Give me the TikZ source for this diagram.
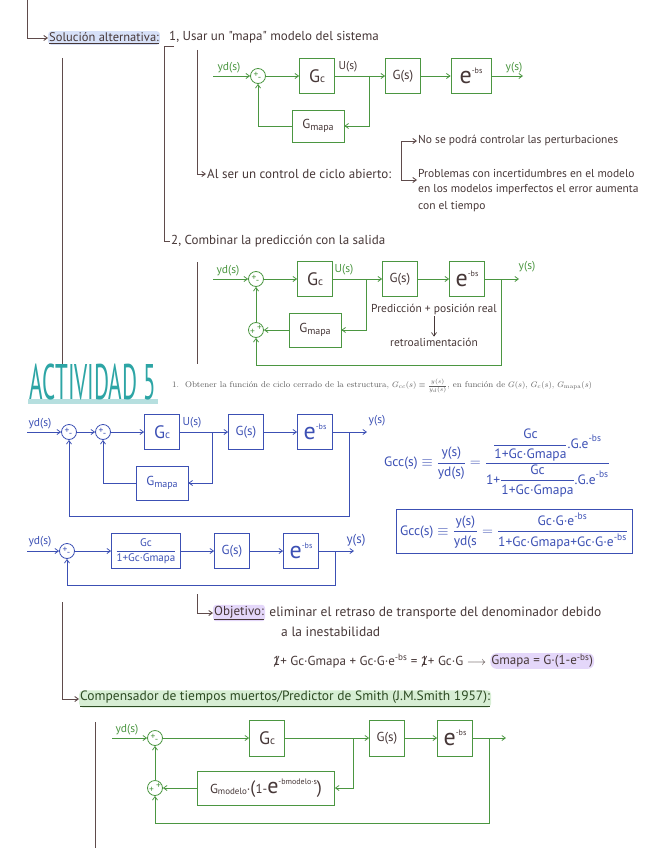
\documentclass[tikz,border=0pt]{standalone}
\usepackage{fontspec}
\usepackage{amsmath}
\usetikzlibrary{calc,positioning,arrows.meta}
\newfontfamily\hand{PT Sans}
\definecolor{tinta}{RGB}{70,55,55}
\definecolor{marron}{RGB}{95,75,75}
\definecolor{verde}{RGB}{75,150,65}
\definecolor{verdeosc}{RGB}{45,75,35}
\definecolor{azul}{RGB}{60,80,180}
\definecolor{turq}{RGB}{45,165,165}
\definecolor{gris}{RGB}{95,95,95}
\definecolor{hlazul}{RGB}{215,225,248}
\definecolor{hllila}{RGB}{228,215,250}
\definecolor{hlverde}{RGB}{215,238,212}
\newcommand{\ebs}{{\fontsize{24}{24}\selectfont e}\raisebox{10pt}{\fontsize{8}{8}\selectfont -bs}}
\newcommand{\Gc}{{\fontsize{18}{18}\selectfont G}\fontsize{11}{11}\selectfont c}
\newcommand{\Gm}{G\raisebox{-1.5pt}{\fontsize{10}{10}\selectfont mapa}}
\newcommand{\tachado}[1]{\ooalign{#1\cr\hidewidth/\hidewidth}}
\newcommand{\signos}[4]{%
  \node[sgn,text=#1] at ($(#2)+(-2,-1.5)$) {#3};
  \node[sgn,text=#1] at ($(#2)+(1.5,3)$) {#4};}
\newcommand{\signosdos}[2]{%
  \node[sgn,text=#1] at ($(#2)+(-3.5,2)$) {+};
  \node[sgn,text=#1] at ($(#2)+(3.5,-2.5)$) {+};}

\begin{document}
\begin{tikzpicture}[x=1pt,y=-1pt,
  >={Straight Barb[length=3.5pt,width=5pt]},
  txt/.style={font=\hand\fontsize{11.5}{13}\selectfont, text=tinta, inner sep=1pt},
  big/.style={font=\hand\fontsize{13}{15}\selectfont},
  lbl/.style={font=\hand\fontsize{11.5}{12}\selectfont, inner sep=0pt},
  brn/.style={draw=marron, line width=0.9pt},
  gl/.style={draw=verde, line width=0.8pt},
  bl/.style={draw=azul, line width=0.8pt},
  gbox/.style={gl, text=tinta, font=\hand\fontsize{13}{14}\selectfont, minimum width=35, minimum height=35, inner sep=1pt},
  bbox/.style={bl, text=azul, font=\hand\fontsize{13}{14}\selectfont, minimum width=35, minimum height=35, inner sep=1pt},
  gsum/.style={gl, circle, minimum size=15, inner sep=0pt},
  bsum/.style={bl, circle, minimum size=15, inner sep=0pt},
  sgn/.style={font=\hand\fontsize{9.5}{9.5}\selectfont, inner sep=0pt}]

\useasboundingbox (0,0) rectangle (646,848);

% Solucion alternativa
\node[txt, font=\hand\fontsize{12.5}{14}\selectfont, anchor=west, fill=hlazul, rounded corners=3pt] (sol) at (48,38) {\underline{Solución alternativa:}};
\node[txt, big, anchor=west] (uno) at (168,37) {1, Usar un "mapa" modelo del sistema};
\node[txt, big, anchor=west] (abi) at (206,174) {Al ser un control de ciclo abierto:};
\node[txt, anchor=west] (nose) at (417,141) {No se podrá controlar las perturbaciones};
\node[txt, anchor=west] (p1) at (417,173) {Problemas con incertidumbres en el modelo};
\node[txt, anchor=west] (p2) at (417,190) {en los modelos imperfectos el error aumenta};
\node[txt, anchor=west] (p3) at (417,207) {con el tiempo};
\node[txt, big, anchor=west] (dos) at (170,241) {2, Combinar la predicción con la salida};

\coordinate (t0) at (27,0);
\coordinate (t1) at (164,46);
\coordinate (t2) at (197,50);
\coordinate (k0) at (401,180);
\draw[brn,->] (t0) |- (sol.west);
\draw[brn] (62,58) -- (62,365);
\draw[brn] ($(t1)+(10,0)$) -- (t1) |- (dos.west);
\draw[brn,->] (t2) |- (abi.west);
\draw[brn,->] (k0) |- (nose.west);
\draw[brn,->] (k0) -- (k0 -| p1.west);

% diagrama 1
\coordinate (in1) at (213,76);
\coordinate (out1) at (523,76);
\coordinate (a5) at (369,76);
\node[gsum] (a1) at (258,76) {};
\node[gbox] (a2) at (317,76) {\Gc};
\node[gbox] (a3) at (403,76) {G(s)};
\node[gbox, minimum width=40] (a4) at (471,76) {\ebs};
\node[gbox, minimum width=52, minimum height=32] (a6) at (318,126) {\Gm};
\node[lbl, text=verde] at (229,68) {yd(s)};
\node[lbl, text=tinta] at (348,67) {U(s)};
\node[lbl, text=verde] at (514,68) {y(s)};
\signos{verde}{a1}{+}{-}
\draw[gl,->] (in1) -- (a1);
\draw[gl,->] (a1) -- (a2);
\draw[gl,->] (a2) -- (a3);
\draw[gl,->] (a3) -- (a4);
\draw[gl,->] (a4) -- (out1);
\draw[gl,->] (a5) |- (a6);
\draw[gl,->] (a6) -| (a1);

% diagrama 2
\coordinate (in2) at (213,279);
\coordinate (out2) at (519,279);
\coordinate (b5) at (366,279);
\coordinate (b6) at (501,279);
\coordinate (b9) at (256,365);
\node[gsum] (b1) at (256,279) {};
\node[gbox] (b2) at (315,279) {\Gc};
\node[gbox] (b3) at (400,279) {G(s)};
\node[gbox] (b4) at (467,279) {\ebs};
\node[gbox, minimum width=52, minimum height=34] (b7) at (315,330) {\Gm};
\node[gsum] (b8) at (256,330) {};
\node[lbl, text=verde] at (228,271) {yd(s)};
\node[lbl, text=verde] at (344,270) {U(s)};
\node[lbl, text=verde] at (527,267) {y(s)};
\signos{verde}{b1}{+}{-}
\signosdos{verde}{b8}
\draw[gl,->] (in2) -- (b1);
\draw[gl,->] (b1) -- (b2);
\draw[gl,->] (b2) -- (b3);
\draw[gl,->] (b3) -- (b4);
\draw[gl,->] (b4) -- (out2);
\draw[gl,->] (b5) |- (b7);
\draw[gl,->] (b7) -- (b8);
\draw[gl,->] (b8) -- (b1);
\draw[gl,->] (b6) |- (b9) -- (b8);
\node[txt] (pred) at (434,310) {Predicción + posición real};
\node[txt] (retro) at (434,342) {retroalimentación};
\draw[tinta, line width=0.7pt, ->] (pred.south) -- (retro.north);
\draw[brn] (197,262) -- (197,364);

% Actividad 5
\fill[turq!35] (28,399) rectangle (158,404);
\node[text=turq, font=\hand\fontsize{50}{50}\selectfont, inner sep=0pt] (act) at (93,382) {\scalebox{0.46}[1]{ACTIVIDAD 5}};
\node[anchor=west, text=gris, font=\fontsize{8.4}{9}\selectfont, inner sep=0pt] (enun) at (172,386)
  {1.\ \ Obtener la función de ciclo cerrado de la estructura, $G_{cc}(s)\equiv\frac{y(s)}{y_d(s)}$, en función de $G(s)$, $G_c(s)$, $G_{\text{mapa}}(s)$};

% diagrama 3
\coordinate (in3) at (27,432);
\coordinate (out3) at (367,432);
\coordinate (c6) at (212,432);
\coordinate (c7) at (349,432);
\coordinate (c9) at (69,516);
\node[bsum] (c1) at (69,432) {};
\node[bsum] (c2) at (103,432) {};
\node[bbox] (c3) at (162,432) {\Gc};
\node[bbox] (c4) at (246,432) {G(s)};
\node[bbox] (c5) at (315,432) {\ebs};
\node[bbox, minimum width=52, minimum height=34] (c8) at (162,483) {\Gm};
\node[lbl, text=azul] at (40,424) {yd(s)};
\node[lbl, text=azul] at (192,423) {U(s)};
\node[lbl, text=azul] at (377,421) {y(s)};
\signos{azul}{c1}{+}{-}
\signos{azul}{c2}{+}{-}
\draw[bl,->] (in3) -- (c1);
\draw[bl,->] (c1) -- (c2);
\draw[bl,->] (c2) -- (c3);
\draw[bl,->] (c3) -- (c4);
\draw[bl,->] (c4) -- (c5);
\draw[bl,->] (c5) -- (out3);
\draw[bl,->] (c6) |- (c8);
\draw[bl,->] (c8) -| (c2);
\draw[bl,->] (c7) |- (c9) -- (c1);

\node[text=azul, font=\hand\fontsize{13.5}{15}\selectfont, inner sep=0pt] (eq1) at (497,463)
  {$\text{Gcc(s)}\equiv\dfrac{\text{y(s)}}{\text{yd(s)}}=\dfrac{\dfrac{\text{Gc}}{\text{1+Gc·Gmapa}}\text{.G.e}^{\text{-bs}}}{\text{1+}\dfrac{\text{Gc}}{\text{1+Gc·Gmapa}}\text{.G.e}^{\text{-bs}}}$};
\node[bl, text=azul, font=\hand\fontsize{13.5}{15}\selectfont, minimum width=236, minimum height=44, inner sep=1pt] (eq2) at (514,531)
  {$\text{Gcc(s)}\equiv\dfrac{\text{y(s)}}{\text{yd(s}}=\dfrac{\text{Gc·G·e}^{\text{-bs}}}{\text{1+Gc·Gmapa+Gc·G·e}^{\text{-bs}}}$};

% diagrama 4
\coordinate (in4) at (27,551);
\coordinate (out4) at (354,551);
\coordinate (d5) at (335,551);
\coordinate (d6) at (67,585);
\node[bsum] (d1) at (67,551) {};
\node[bbox, minimum width=69, font=\hand\fontsize{11}{12}\selectfont] (d2) at (146,551) {$\dfrac{\text{Gc}}{\text{1+Gc·Gmapa}}$};
\node[bbox] (d3) at (232,551) {G(s)};
\node[bbox] (d4) at (301,551) {\ebs};
\node[lbl, text=azul] at (40,542) {yd(s)};
\node[lbl, text=azul, font=\hand\fontsize{13}{14}\selectfont] at (356,540) {y(s)};
\signos{azul}{d1}{+}{-}
\draw[bl,->] (in4) -- (d1);
\draw[bl,->] (d1) -- (d2);
\draw[bl,->] (d2) -- (d3);
\draw[bl,->] (d3) -- (d4);
\draw[bl,->] (d4) -- (out4);
\draw[bl,->] (d5) |- (d6) -- (d1);

% objetivo
\coordinate (o0) at (197,594);
\node[txt, font=\hand\fontsize{13}{15}\selectfont, anchor=west, fill=hllila, rounded corners=3pt] (obj) at (213,613) {\underline{Objetivo:}};
\node[txt, font=\hand\fontsize{13.5}{15}\selectfont, right=3pt of obj] (elim) {eliminar el retraso de transporte del denominador debido};
\node[txt, font=\hand\fontsize{13.5}{15}\selectfont, anchor=west] (ines) at (280,632) {a la inestabilidad};
\draw[brn,->] (o0) |- (obj.west);
\node[txt, big, anchor=west] (eqa) at (272,661) {\tachado{1}+ Gc·Gmapa + Gc·G·e\textsuperscript{-bs} = \tachado{1}+ Gc·G $\longrightarrow$};
\node[txt, big, anchor=west, fill=hllila, rounded corners=6pt, right=3pt of eqa] (eqb) {Gmapa = G·(1-e\textsuperscript{-bs})};

% Smith
\coordinate (p0) at (62,602);
\node[txt, anchor=west, fill=hlverde, rounded corners=4pt, text=verdeosc, font=\hand\fontsize{13.5}{15}\selectfont] (comp) at (79,699)
  {\underline{Compensador de tiempos muertos/Predictor de Smith (J.M.Smith 1957):}};
\draw[brn,->] (p0) |- (comp.west);
\draw[brn] (95,722) -- (95,848);

% diagrama 5
\coordinate (in5) at (112,738);
\coordinate (out5) at (506,738);
\coordinate (e5) at (353,738);
\coordinate (e6) at (489,738);
\coordinate (e9) at (155,823);
\node[gsum] (e1) at (155,738) {};
\node[gbox, minimum height=36] (e2) at (267,738) {\Gc};
\node[gbox, minimum height=36] (e3) at (387,738) {G(s)};
\node[gbox, minimum height=36] (e4) at (455,738) {\ebs};
\node[gbox, minimum width=137, minimum height=34] (e7) at (266,788)
  {G\raisebox{-1.5pt}{\fontsize{9}{9}\selectfont modelo}·{\fontsize{18}{18}\selectfont(}1-{\fontsize{22}{22}\selectfont e}\raisebox{9pt}{\fontsize{8}{8}\selectfont -bmodelo·s}{\fontsize{18}{18}\selectfont)}};
\node[gsum] (e8) at (155,788) {};
\node[lbl, text=verde] at (127,730) {yd(s)};
\signos{verde}{e1}{+}{-}
\signosdos{verde}{e8}
\draw[gl,->] (in5) -- (e1);
\draw[gl,->] (e1) -- (e2);
\draw[gl,->] (e2) -- (e3);
\draw[gl,->] (e3) -- (e4);
\draw[gl,->] (e4) -- (out5);
\draw[gl,->] (e5) |- (e7);
\draw[gl,->] (e7) -- (e8);
\draw[gl,->] (e8) -- (e1);
\draw[gl,->] (e6) |- (e9) -- (e8);
\end{tikzpicture}
\end{document}
